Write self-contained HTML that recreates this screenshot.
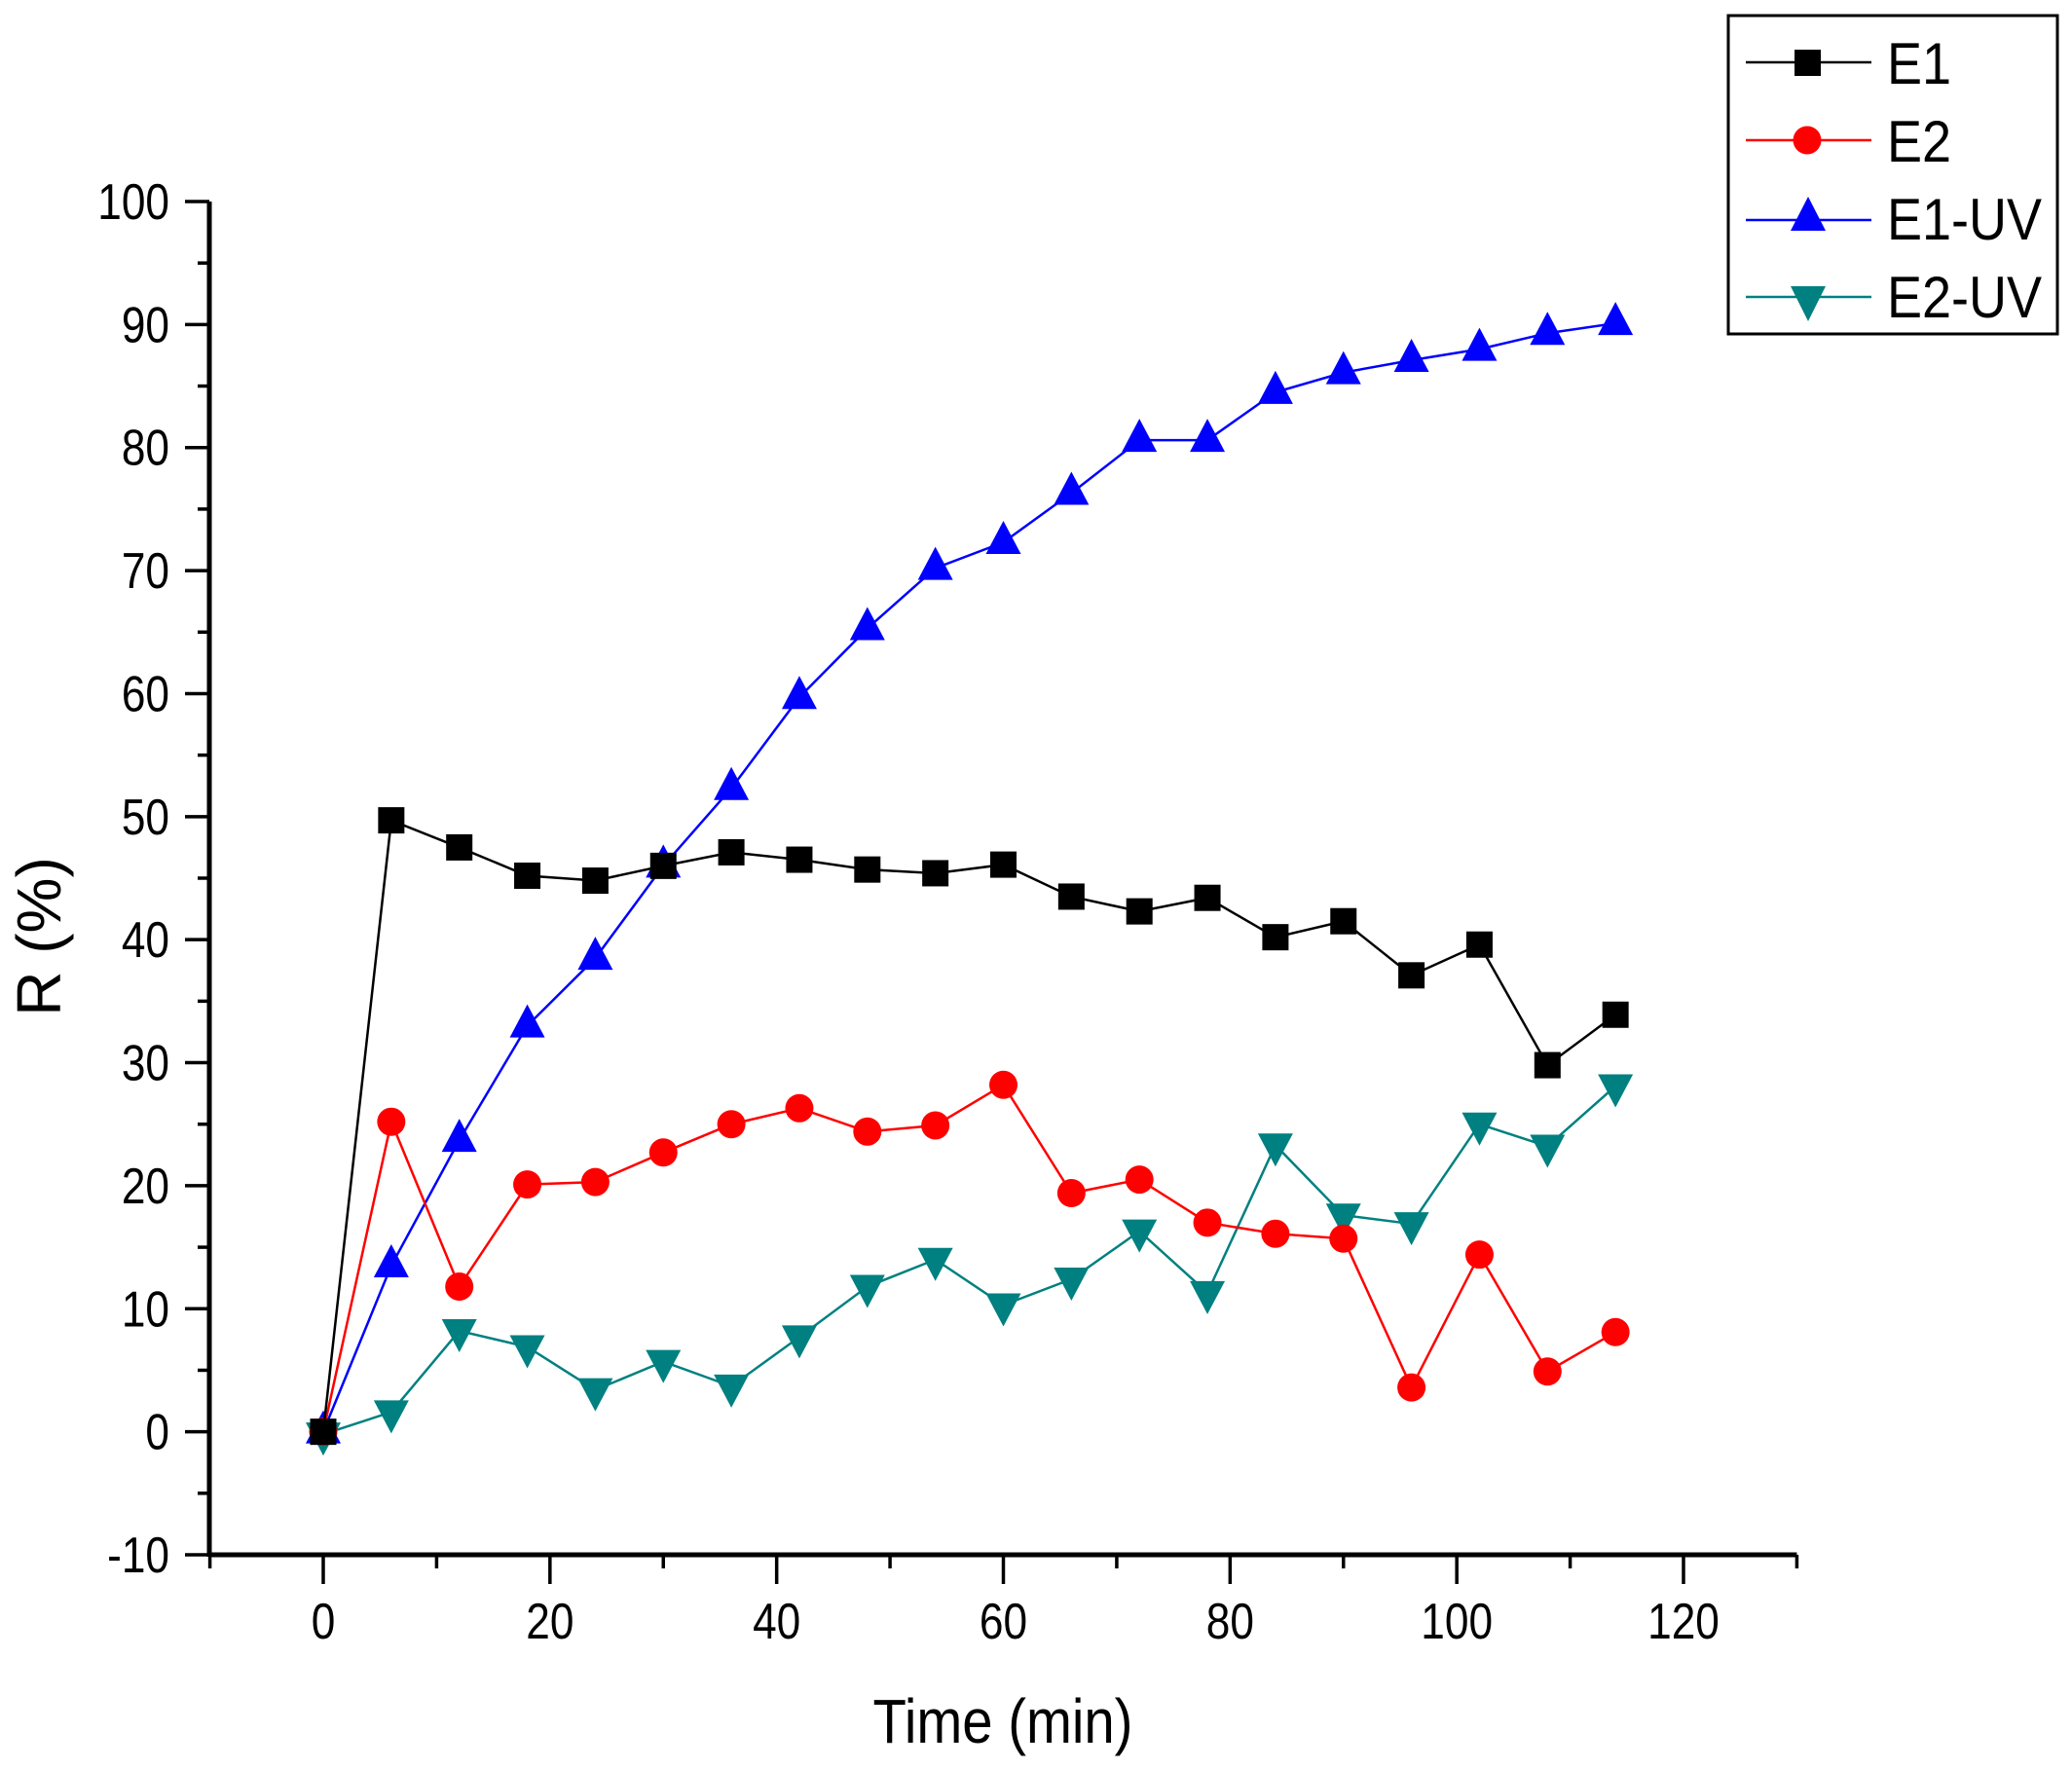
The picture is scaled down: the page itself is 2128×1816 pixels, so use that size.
<!DOCTYPE html>
<html><head><meta charset="utf-8"><style>
html,body{margin:0;padding:0;background:#fff}
svg{display:block}
text{font-family:"Liberation Sans",Arial,sans-serif}
</style></head><body>
<svg id="chart" width="2128" height="1816" viewBox="0 0 2128 1816" xmlns="http://www.w3.org/2000/svg">
<g id="axes"></g>
<g id="series"></g>
<text x="1030" y="1790" font-size="64" text-anchor="middle" transform="translate(1030 0) scale(0.88 1) translate(-1030 0)">Time (min)</text>
<text x="0" y="0" font-size="64" text-anchor="middle" transform="translate(62 962) rotate(-90)">R (%)</text>
<g>
<rect x="1775" y="16" width="338" height="327" fill="#fff" stroke="#000" stroke-width="3"/>
<g><line x1="1793" y1="64" x2="1922" y2="64" stroke="#000" stroke-width="2.5"/><rect x="1843" y="51" width="27" height="27" fill="#000"/><text x="1938" y="86" font-size="60" transform="translate(1938 0) scale(0.9 1) translate(-1938 0)">E1</text></g>
<g><line x1="1793" y1="144" x2="1922" y2="144" stroke="#f00" stroke-width="2.5"/><circle cx="1856" cy="144" r="14.5" fill="#f00"/><text x="1938" y="166" font-size="60" transform="translate(1938 0) scale(0.9 1) translate(-1938 0)">E2</text></g>
<g><line x1="1793" y1="226" x2="1922" y2="226" stroke="#00f" stroke-width="2.5"/><polygon points="1857,202 1875,237 1839,237" fill="#00f"/><text x="1938" y="246" font-size="60" transform="translate(1938 0) scale(0.9 1) translate(-1938 0)">E1-UV</text></g>
<g><line x1="1793" y1="305" x2="1922" y2="305" stroke="#008080" stroke-width="2.5"/><polygon points="1839,294 1875,294 1857,330" fill="#008080"/><text x="1938" y="326" font-size="60" transform="translate(1938 0) scale(0.9 1) translate(-1938 0)">E2-UV</text></g>
</g>
</svg>
<script>
const times = [0,6,12,18,24,30,36,42,48,54,60,66,72,78,84,90,96,102,108,114];
const e1 = [0,49.7,47.5,45.2,44.8,46,47.1,46.5,45.7,45.4,46.1,43.5,42.3,43.4,40.2,41.5,37.1,39.6,29.8,33.9];
const e2 = [0,25.2,11.8,20.1,20.3,22.7,25,26.3,24.4,24.9,28.2,19.4,20.5,17,16.1,15.7,3.6,14.4,4.9,8.1];
const e1uv = [0,13.5,23.7,33,38.5,46,52.3,59.7,65.3,70.2,72.3,76.3,80.6,80.6,84.5,86.1,87.1,88,89.3,90.1];
const e2uv = [-0.2,1.6,8.2,6.9,3.4,5.7,3.7,7.7,11.8,14,10.3,12.4,16.3,11.3,23.3,17.6,16.9,25,23.2,28.1];
const xTickLabels = ["0","20","40","60","80","100","120"];
const yTickLabels = ["-10","0","10","20","30","40","50","60","70","80","90","100"];

const NS="http://www.w3.org/2000/svg";
const X0=332, X1=1729, XMIN=-10, XMAX=130;
const Y0=1597, Y1=207;
function sx(v){return X0+(v-0)*(X1-X0)/120;}
function sy(v){return Y0+(v+10)*(Y1-Y0)/110;}
function mk(tag,attrs,parent){const e=document.createElementNS(NS,tag);for(const k in attrs)e.setAttribute(k,attrs[k]);parent.appendChild(e);return e;}

const axes=document.getElementById('axes');
const xa=mk('line',{x1:215,y1:Y0,x2:sx(XMAX),y2:Y0,stroke:'#000','stroke-width':5},axes);


const ya=mk('line',{x1:215,y1:Y0+2,x2:215,y2:Y1,stroke:'#000','stroke-width':5},axes);


for(let v=-10;v<=130;v+=10){
  const major = v%20===0;
  mk('line',{x1:sx(v),y1:Y0,x2:sx(v),y2:Y0+(major?30:14),stroke:'#000','stroke-width':3.5},axes);
}
xTickLabels.forEach(l=>{
  const t=mk('text',{x:sx(+l),y:1683,'font-size':52,'text-anchor':'middle',transform:`translate(${sx(+l)} 0) scale(0.85 1) translate(${-sx(+l)} 0)`},axes);
  t.textContent=l;
  
  
});
for(let v=-10;v<=100;v+=5){
  const major=v%10===0;
  mk('line',{x1:215,y1:sy(v),x2:215-(major?25:12),y2:sy(v),stroke:'#000','stroke-width':3.5},axes);
}
yTickLabels.forEach(l=>{
  const t=mk('text',{x:174,y:sy(+l)+18,'font-size':52,'text-anchor':'end',transform:`translate(174 0) scale(0.85 1) translate(-174 0)`},axes);
  t.textContent=l;
  
  
});

const sg=document.getElementById('series');
function drawSeries(vals,color,shape,name){
  const g=mk('g',{},sg);
  
  
  const pts=vals.map((v,i)=>sx(times[i])+','+sy(v)).join(' ');
  mk('polyline',{points:pts,fill:'none',stroke:color,'stroke-width':2.5},g);
  vals.forEach((v,i)=>{
    const cx=sx(times[i]), cy=sy(v);
    let m;
    if(shape==='sq') m=mk('rect',{x:cx-13.5,y:cy-13.5,width:27,height:27,fill:color},g);
    else if(shape==='ci') m=mk('circle',{cx:cx,cy:cy,r:14.5,fill:color},g);
    else if(shape==='up') m=mk('polygon',{points:`${cx},${cy-22} ${cx+18},${cy+12} ${cx-18},${cy+12}`,fill:color},g);
    else m=mk('polygon',{points:`${cx-18},${cy-12} ${cx+18},${cy-12} ${cx},${cy+22}`,fill:color},g);
    
    
  });
}
drawSeries(e2uv,'#008080','dn','series-e2-uv');
drawSeries(e1uv,'#0000ff','up','series-e1-uv');
drawSeries(e2,'#ff0000','ci','series-e2');
drawSeries(e1,'#000000','sq','series-e1');
</script>
</body></html>
